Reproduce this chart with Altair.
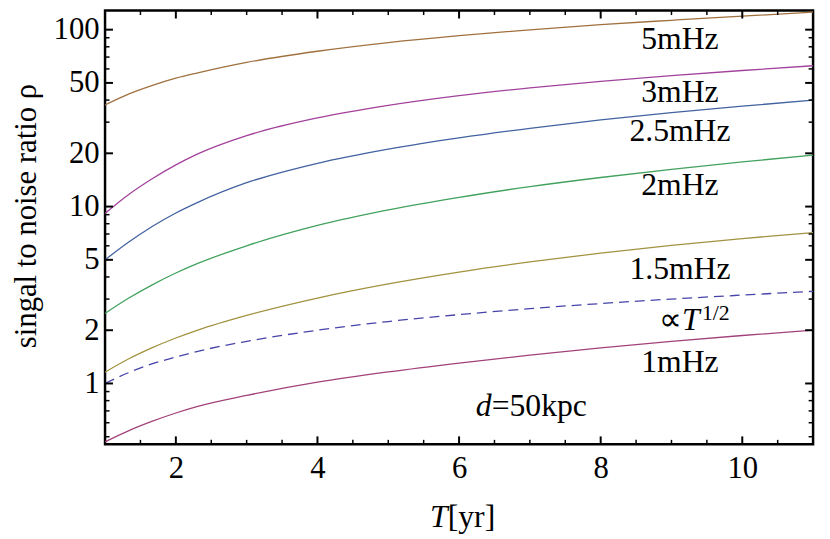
import altair as alt
import pandas as pd

# ---------------- data ----------------
T_YR = [1, 1.33, 1.66, 2, 2.31, 3, 4, 5, 6, 7, 8, 9, 10, 11]
SNR_5MHZ = [37.5, 43.2, 48.3, 53.2, 57.0, 65.3, 75.5, 84.5, 92.5, 99.8, 106.8, 113.0, 119.3, 125.5]
SNR_3MHZ = [9.15, 11.66, 14.31, 17.20, 19.85, 25.18, 31.71, 37.34, 42.39, 46.91, 51.07, 54.95, 58.76, 62.53]
SNR_25MHZ = [5.0, 6.28, 7.69, 9.20, 10.57, 13.64, 17.57, 21.12, 24.47, 27.71, 30.88, 33.94, 36.95, 39.96]
SNR_2MHZ = [2.49, 3.03, 3.60, 4.21, 4.77, 6.00, 7.82, 9.58, 11.28, 12.96, 14.60, 16.23, 17.88, 19.56]
SNR_15MHZ = [1.159, 1.375, 1.589, 1.808, 2.005, 2.426, 3.041, 3.656, 4.265, 4.863, 5.457, 6.03, 6.59, 7.13]
SNR_SQRT = [1.0, 1.15, 1.29, 1.41, 1.52, 1.73, 2.0, 2.24, 2.45, 2.65, 2.83, 3.0, 3.16, 3.32]
SNR_1MHZ = [0.468, 0.540, 0.610, 0.681, 0.742, 0.856, 1.017, 1.163, 1.305, 1.447, 1.590, 1.731, 1.867, 2.001]

SERIES = ["5mHz", "3mHz", "2.5mHz", "2mHz", "1.5mHz", "1mHz"]
SERIES_VALUES = [SNR_5MHZ, SNR_3MHZ, SNR_25MHZ, SNR_2MHZ, SNR_15MHZ, SNR_1MHZ]
COLORS = ["#A0703E", "#A2429C", "#4262A0", "#42A25E", "#A29341", "#A2427A"]
SQRT_COLOR = "#4644AA"

LABEL_TEXT = ["5mHz", "3mHz", "2.5mHz", "2mHz", "1.5mHz", "1mHz"]
LABEL_T = [9.12, 9.12, 9.12, 9.12, 9.12, 9.12]
LABEL_RHO = [78.2, 38.9, 23.4, 11.6, 3.88, 1.159]

X_MAJOR = [2, 4, 6, 8, 10]
X_MINOR = [1.5, 2.5, 3, 3.5, 4.5, 5, 5.5, 6.5, 7, 7.5, 8.5, 9, 9.5, 10.5]
Y_MAJOR = [1, 2, 5, 10, 20, 50, 100]
Y_MINOR = [0.5, 0.6, 0.7, 0.8, 0.9, 3, 4, 6, 7, 8, 9, 30, 40, 60, 70, 80, 90]

X_DOMAIN = [1, 11]
Y_DOMAIN = [0.453, 128.2]

W, H = 715, 438
FONT = "Liberation Serif, Times New Roman, Times, serif"

# ---------------- tables ----------------
rows = []
for name, vals in zip(SERIES, SERIES_VALUES):
    for t, v in zip(T_YR, vals):
        rows.append({"T": t, "rho": v, "series": name})
df_lines = pd.DataFrame(rows)
df_sqrt = pd.DataFrame({"T": T_YR, "rho": SNR_SQRT})
df_labels = pd.DataFrame({"T": LABEL_T, "rho": LABEL_RHO, "label": LABEL_TEXT})

xs = alt.Scale(domain=X_DOMAIN, nice=False, zero=False)
ys = alt.Scale(type="log", domain=Y_DOMAIN, nice=False)

x_axis = alt.Axis(values=X_MAJOR, ticks=False, domain=False, grid=False,
                  labelFont=FONT, labelFontSize=31, labelPadding=10,
                  labelColor="black", title=None, format="d")
y_axis = alt.Axis(values=Y_MAJOR, ticks=False, domain=False, grid=False,
                  labelFont=FONT, labelFontSize=31, labelPadding=6,
                  labelColor="black", format="d",
                  title="singal to noise ratio ρ", titleFont=FONT,
                  titleFontSize=31, titleFontWeight="normal", titleColor="black",
                  titleX=-70, titleY=207, titleAngle=270,
                  titleAlign="center", titleBaseline="alphabetic")

lines = alt.Chart(df_lines).mark_line(strokeWidth=1.3, interpolate="monotone", clip=True).encode(
    x=alt.X("T:Q", scale=xs, axis=x_axis),
    y=alt.Y("rho:Q", scale=ys, axis=y_axis),
    color=alt.Color("series:N", scale=alt.Scale(domain=SERIES, range=COLORS), legend=None),
    detail="series:N",
)

sqrt_line = alt.Chart(df_sqrt).mark_line(strokeWidth=1.3, strokeDash=[10, 6], color=SQRT_COLOR,
                                         interpolate="monotone", clip=True).encode(
    x=alt.X("T:Q", scale=xs),
    y=alt.Y("rho:Q", scale=ys),
)

labels = alt.Chart(df_labels).mark_text(font=FONT, fontSize=32, align="center",
                                        baseline="alphabetic", color="black").encode(
    x=alt.X("T:Q", scale=xs), y=alt.Y("rho:Q", scale=ys), text="label:N")

# "∝T^{1/2}" label
prop_sym = alt.Chart(pd.DataFrame({"T": [9.15], "rho": [2.01], "s": ["∝"]})).mark_text(
    font=FONT, fontSize=32, align="right", baseline="alphabetic", color="black").encode(
    x=alt.X("T:Q", scale=xs), y=alt.Y("rho:Q", scale=ys), text="s:N")
prop_T = alt.Chart(pd.DataFrame({"T": [9.15], "rho": [2.01], "s": ["T"]})).mark_text(
    font=FONT, fontSize=32, fontStyle="italic", align="left", baseline="alphabetic",
    color="black").encode(x=alt.X("T:Q", scale=xs), y=alt.Y("rho:Q", scale=ys), text="s:N")
prop_exp = alt.Chart(pd.DataFrame({"T": [9.43], "rho": [2.29], "s": ["1/2"]})).mark_text(
    font=FONT, fontSize=22, align="left", baseline="alphabetic", color="black").encode(
    x=alt.X("T:Q", scale=xs), y=alt.Y("rho:Q", scale=ys), text="s:N")

# "d=50kpc" label
d_it = alt.Chart(pd.DataFrame({"T": [6.46], "rho": [0.654], "s": ["d"]})).mark_text(
    font=FONT, fontSize=32, fontStyle="italic", align="right", baseline="alphabetic",
    color="black").encode(x=alt.X("T:Q", scale=xs), y=alt.Y("rho:Q", scale=ys), text="s:N")
d_rest = alt.Chart(pd.DataFrame({"T": [6.46], "rho": [0.654], "s": ["=50kpc"]})).mark_text(
    font=FONT, fontSize=32, align="left", baseline="alphabetic", color="black").encode(
    x=alt.X("T:Q", scale=xs), y=alt.Y("rho:Q", scale=ys), text="s:N")

# x-axis title "T[yr]"
xt_T = alt.Chart(pd.DataFrame({"T": [5.84], "s": ["T"]})).mark_text(
    font=FONT, fontSize=32, fontStyle="italic", align="right", baseline="alphabetic",
    color="black").encode(x=alt.X("T:Q", scale=xs), y=alt.value(H + 84), text="s:N")
xt_rest = alt.Chart(pd.DataFrame({"T": [5.84], "s": ["[yr]"]})).mark_text(
    font=FONT, fontSize=32, align="left", baseline="alphabetic",
    color="black").encode(x=alt.X("T:Q", scale=xs), y=alt.value(H + 84), text="s:N")

# inward frame ticks
def xticks(vals, length, width):
    d = pd.DataFrame({"v": vals})
    bottom = alt.Chart(d).mark_rule(color="black", strokeWidth=width).encode(
        x=alt.X("v:Q", scale=xs), y=alt.value(H), y2=alt.value(H - length))
    top = alt.Chart(d).mark_rule(color="black", strokeWidth=width).encode(
        x=alt.X("v:Q", scale=xs), y=alt.value(0), y2=alt.value(length))
    return [bottom, top]


def yticks(vals, length, width):
    d = pd.DataFrame({"v": vals})
    left = alt.Chart(d).mark_rule(color="black", strokeWidth=width).encode(
        y=alt.Y("v:Q", scale=ys), x=alt.value(0), x2=alt.value(length))
    right = alt.Chart(d).mark_rule(color="black", strokeWidth=width).encode(
        y=alt.Y("v:Q", scale=ys), x=alt.value(W), x2=alt.value(W - length))
    return [left, right]


tick_layers = (xticks(X_MAJOR, 8, 2) + xticks(X_MINOR, 4.5, 1.5)
               + yticks(Y_MAJOR, 8, 2) + yticks(Y_MINOR, 4.5, 1.5))

chart = alt.layer(
    lines, sqrt_line, labels, prop_sym, prop_T, prop_exp, d_it, d_rest, xt_T, xt_rest,
    *tick_layers
).properties(
    width=W, height=H,
    autosize=alt.AutoSizeParams(type="none"),
    padding={"left": 98, "top": 0, "right": 9, "bottom": 92},
    background="white",
).configure_view(stroke="black", strokeWidth=2.5)

chart.save("out.html", embed_options={"renderer": "svg", "actions": False})
